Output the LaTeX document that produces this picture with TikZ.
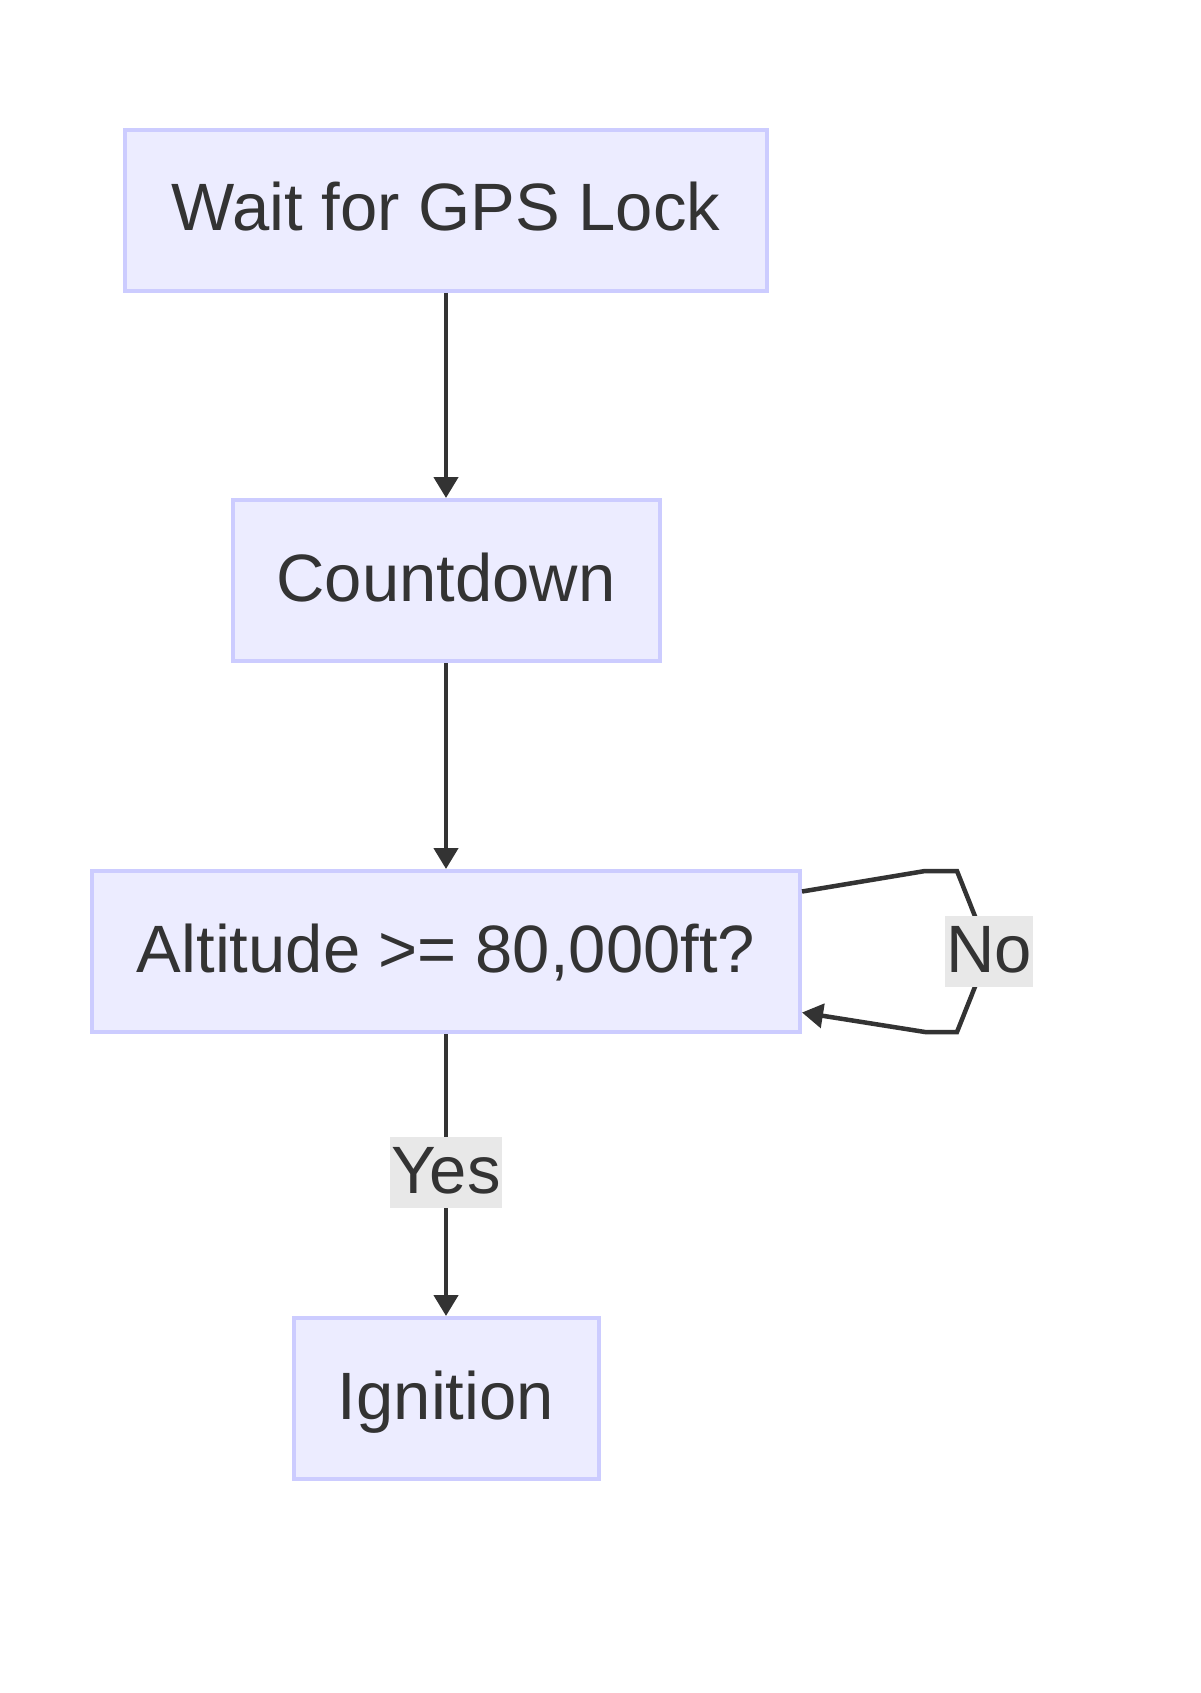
\documentclass[tikz,border=0pt]{standalone}
\usepackage{fontspec}
\setmainfont{Liberation Sans}
\usetikzlibrary{arrows.meta}
\definecolor{nodefill}{HTML}{ECECFF}
\definecolor{nodeline}{HTML}{CCCCFF}
\definecolor{edgecol}{HTML}{333333}
\definecolor{lblbg}{HTML}{E8E8E8}
\tikzset{
  flowbox/.style={draw=nodeline, fill=nodefill, line width=4pt, minimum height=161pt,
    inner sep=0pt, text=edgecol, font=\fontsize{67}{80}\selectfont,
    text height=54pt, text depth=13pt},
  edgelbl/.style={fill=lblbg, inner xsep=1.5pt, inner ysep=2pt, text=edgecol,
    font=\fontsize{67}{80}\selectfont, text height=54pt, text depth=13pt},
  flow/.style={draw=edgecol, line width=4.5pt, -{Triangle[length=21pt,width=24pt]}}
}
\begin{document}
\begin{tikzpicture}[x=1pt,y=-1pt]
\useasboundingbox (0,0) rectangle (1200,1693);
\node[flowbox, minimum width=642pt] (gps) at (446,210.5) {Wait for GPS Lock};
\node[flowbox, minimum width=427pt] (cd) at (446,580.5) {Countdown};
\node[flowbox, minimum width=708pt] (alt) at (446,951.5) {Altitude >= 80,000ft?};
\node[flowbox, minimum width=305pt] (ign) at (446,1398.5) {Ignition};

\draw[flow] (gps.south) -- (cd.north);
\draw[flow] (cd.south) -- (alt.north);
\draw[flow] (alt.south) -- (ign.north);
\node[edgelbl] (yes) at (446,1172.5) {Yes};

\coordinate (a1) at (925,871);
\coordinate (a2) at (957,871);
\coordinate (a3) at (989,951.5);
\coordinate (a4) at (957,1032);
\coordinate (a5) at (925,1032);
\draw[flow] ([yshift=60pt]alt.east) -- (a1) -- (a2) -- (a3) -- (a4) -- (a5) -- ([yshift=-61pt]alt.east);
\node[edgelbl] (no) at (a3) {No};
\end{tikzpicture}
\end{document}
